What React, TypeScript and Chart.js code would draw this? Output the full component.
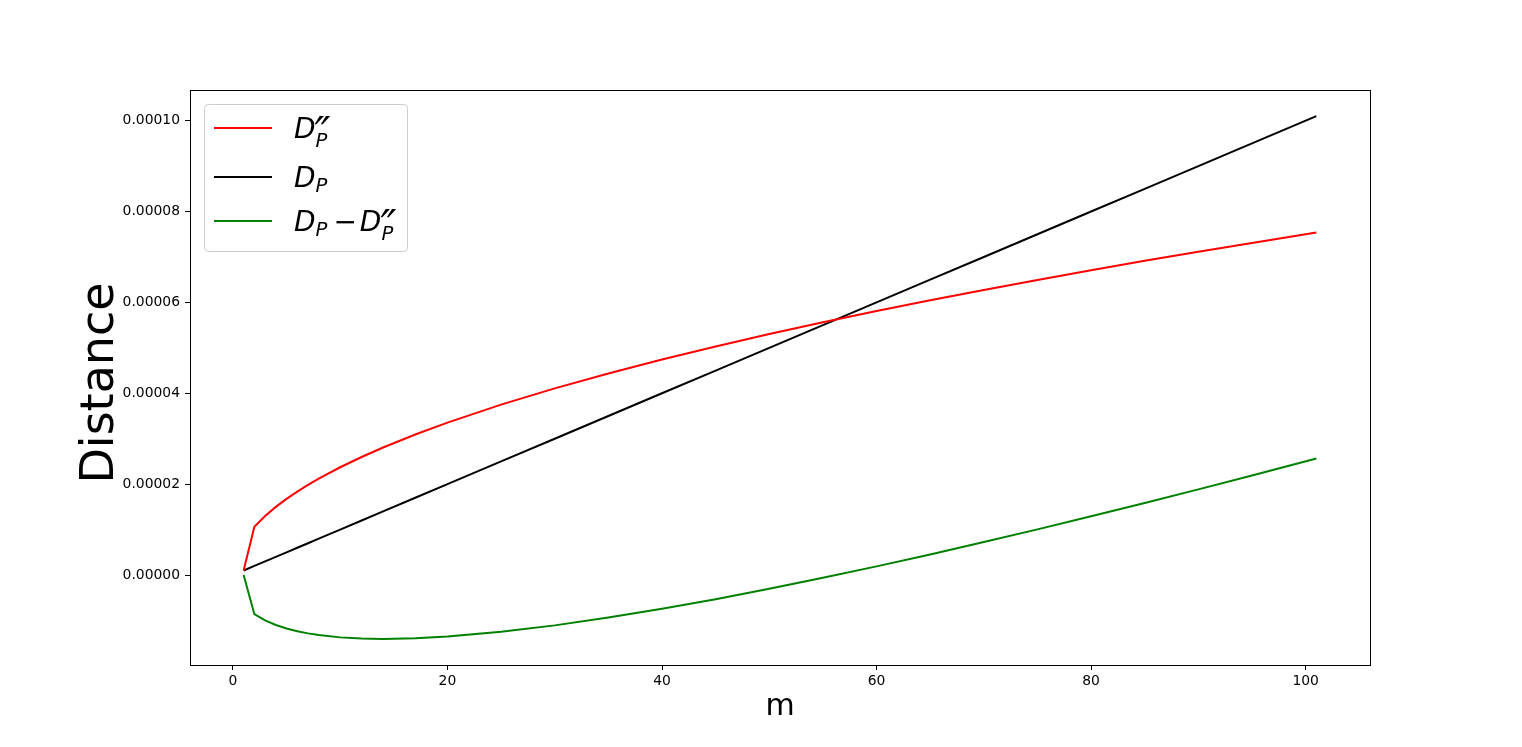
import React, { useEffect, useRef } from "react";
import { Chart, registerables } from "chart.js";

Chart.register(...registerables);

// m values (x axis)
const mValues = [1, 2, 3, 4, 5, 6, 7, 8, 10, 12, 14, 17, 20, 25, 30, 35, 40, 45, 50, 55, 60, 65, 70, 75, 80, 85, 90, 95, 101];

// D_P'' (red)
const dppValues = [
  0.0000010, 0.00001061, 0.00001299, 0.000015, 0.00001677, 0.00001837, 0.00001984, 0.00002121,
  0.00002372, 0.00002598, 0.00002806, 0.00003092, 0.00003354, 0.0000375, 0.00004108, 0.00004437,
  0.00004743, 0.00005031, 0.00005303, 0.00005562, 0.00005809, 0.00006047, 0.00006275, 0.00006495,
  0.00006708, 0.00006915, 0.00007115, 0.0000731, 0.00007537,
];

// D_P (black)
const dpValues = [
  0.000001, 0.000002, 0.000003, 0.000004, 0.000005, 0.000006, 0.000007, 0.000008,
  0.00001, 0.000012, 0.000014, 0.000017, 0.00002, 0.000025, 0.00003, 0.000035,
  0.00004, 0.000045, 0.00005, 0.000055, 0.00006, 0.000065, 0.00007, 0.000075,
  0.00008, 0.000085, 0.00009, 0.000095, 0.000101,
];

// D_P - D_P'' (green)
const diffValues = [
  0, -0.000008607, -0.00000999, -0.000011, -0.00001177, -0.00001237, -0.00001284, -0.00001321,
  -0.00001372, -0.00001398, -0.00001406, -0.00001392, -0.00001354, -0.0000125, -0.00001108, -0.00000937,
  -0.00000743, -0.00000531, -0.00000303, -0.00000062, 0.00000191, 0.00000453, 0.00000725, 0.00001005,
  0.00001292, 0.00001585, 0.00001885, 0.0000219, 0.00002563,
];

const seriesLabels = ["D″_P", "D_P", "D_P − D″_P"];
const seriesColors = ["#ff0000", "#000000", "#008000"];
const xTickStep = 20;
const yTickStep = 0.00002;
const xTitle = "m";
const yTitle = "Distance";

const FONT = "'DejaVu Sans', sans-serif";

function toPoints(ys: number[]) {
  return mValues.map((m, i) => ({ x: m, y: ys[i] }));
}

// draws "D_P" optionally with primes, returns new x
function drawDP(ctx: CanvasRenderingContext2D, x: number, b: number, primes: boolean) {
  ctx.font = `italic 28px ${FONT}`;
  ctx.fillText("D", x, b);
  x += ctx.measureText("D").width;
  ctx.font = `italic 19.6px ${FONT}`;
  const subY = primes ? b + 9 : b + 5;
  ctx.fillText("P", x, subY);
  let w = ctx.measureText("P").width;
  if (primes) {
    ctx.font = `italic 44px ${FONT}`;
    const pw = ctx.measureText("″").width;
    const sx = 16 / pw;
    ctx.save();
    ctx.translate(x - 1, b + 11);
    ctx.scale(sx, 1);
    ctx.fillText("″", 0, 0);
    ctx.restore();
    w = Math.max(w, 14);
  }
  return x + w;
}

const legendPlugin = {
  id: "mathLegend",
  afterDatasetsDraw(chart: any) {
    const ctx: CanvasRenderingContext2D = chart.ctx;
    ctx.save();
    // box
    const bx = 204.5, by = 104.5, bw = 203, bh = 147, r = 4;
    ctx.beginPath();
    ctx.moveTo(bx + r, by);
    ctx.lineTo(bx + bw - r, by);
    ctx.quadraticCurveTo(bx + bw, by, bx + bw, by + r);
    ctx.lineTo(bx + bw, by + bh - r);
    ctx.quadraticCurveTo(bx + bw, by + bh, bx + bw - r, by + bh);
    ctx.lineTo(bx + r, by + bh);
    ctx.quadraticCurveTo(bx, by + bh, bx, by + bh - r);
    ctx.lineTo(bx, by + r);
    ctx.quadraticCurveTo(bx, by, bx + r, by);
    ctx.closePath();
    ctx.fillStyle = "rgba(255,255,255,0.8)";
    ctx.fill();
    ctx.strokeStyle = "#cccccc";
    ctx.lineWidth = 1;
    ctx.stroke();

    const rows = [128, 177, 221];
    ctx.fillStyle = "#000";
    ctx.textBaseline = "alphabetic";
    ctx.textAlign = "left";
    rows.forEach((y, i) => {
      ctx.strokeStyle = seriesColors[i];
      ctx.lineWidth = 2;
      ctx.beginPath();
      ctx.moveTo(214, y);
      ctx.lineTo(272, y);
      ctx.stroke();
      const b = y + 10;
      let x = 294;
      if (i === 0) {
        drawDP(ctx, x, b, true);
      } else if (i === 1) {
        drawDP(ctx, x, b, false);
      } else {
        x = drawDP(ctx, x, b, false);
        x += 6;
        ctx.font = `28px ${FONT}`;
        ctx.fillText("−", x, b);
        x += ctx.measureText("−").width + 3;
        drawDP(ctx, x, b, true);
      }
    });
    ctx.restore();
  },
};

const framePlugin = {
  id: "frame",
  afterDraw(chart: any) {
    const { ctx, chartArea: a } = chart;
    ctx.save();
    ctx.strokeStyle = "#000";
    ctx.lineWidth = 1;
    ctx.strokeRect(a.left + 0.5, a.top + 0.5, a.right - a.left, a.bottom - a.top);
    // y axis title
    ctx.fillStyle = "#000";
    ctx.font = `46px ${FONT}`;
    ctx.textAlign = "center";
    ctx.textBaseline = "alphabetic";
    ctx.translate(113, 383);
    ctx.rotate(-Math.PI / 2);
    ctx.fillText(yTitle, 0, 0);
    ctx.restore();
  },
};

export default function App() {
  const ref = useRef<HTMLCanvasElement>(null);
  useEffect(() => {
    const datasets = [dppValues, dpValues, diffValues].map((vals, i) => ({
      label: seriesLabels[i],
      data: toPoints(vals),
      borderColor: seriesColors[i],
      backgroundColor: seriesColors[i],
      borderWidth: 2,
      pointRadius: 0,
      tension: 0,
      fill: false,
    }));
    const chart = new Chart(ref.current!, {
      type: "line",
      data: { datasets },
      plugins: [framePlugin, legendPlugin],
      options: {
        animation: false,
        responsive: false,
        maintainAspectRatio: false,
        layout: { padding: { left: 0, top: 90, right: 152, bottom: 0 } },
        plugins: { legend: { display: false }, tooltip: { enabled: false } },
        scales: {
          x: {
            type: "linear",
            min: -4,
            max: 106,
            afterFit: (s: any) => { s.height = 82; },
            border: { display: false },
            grid: { drawOnChartArea: false, drawTicks: true, tickLength: 5, tickColor: "#000", tickWidth: 1 },
            ticks: {
              stepSize: xTickStep,
              includeBounds: false,
              maxRotation: 0,
              padding: 3,
              color: "#000",
              font: { family: FONT, size: 13.9 },
              callback: (v: any) => String(v),
            },
            title: {
              display: true,
              text: xTitle,
              color: "#000",
              font: { family: FONT, size: 30, lineHeight: 1 },
              padding: { top: 0, bottom: 25 },
            },
          },
          y: {
            type: "linear",
            min: -0.0000198,
            max: 0.00010675,
            afterFit: (s: any) => { s.width = 190; },
            border: { display: false },
            grid: { drawOnChartArea: false, drawTicks: true, tickLength: 5, tickColor: "#000", tickWidth: 1 },
            ticks: {
              stepSize: yTickStep,
              includeBounds: false,
              padding: 5,
              color: "#000",
              font: { family: FONT, size: 13.9 },
              callback: (v: any) => Number(v).toFixed(5),
            },
            title: { display: false, text: yTitle },
          },
        },
      } as any,
    });
    return () => chart.destroy();
  }, []);
  return (
    <div style={{ position: "fixed", left: 0, top: 0, width: 1522, height: 747, background: "#fff" }}>
      <canvas ref={ref} width={1522} height={747} style={{ display: "block" }} />
    </div>
  );
}
